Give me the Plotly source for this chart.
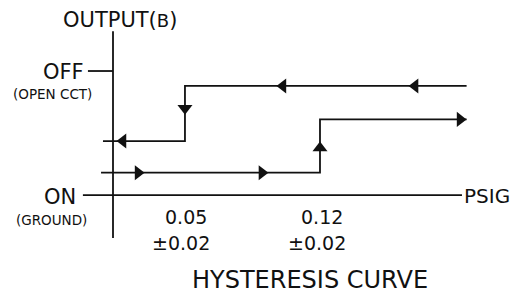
import plotly.graph_objects as go

# ---- data (schematic, x in PSIG, y in output level: ON=0, OFF=1) ----
thresholds = [0.05, 0.12]
threshold_labels = ["0.05", "0.12"]
tolerance_label = "±0.02"
level_names = ["ON", "OFF"]
level_values = [0, 1]
level_notes = ["(GROUND)", "(OPEN CCT)"]

# decreasing-pressure branch (upper path, moving left)
fall_x = [0.196, 0.05, 0.05, 0.0075]
fall_y = [0.88, 0.88, 0.435, 0.435]
# increasing-pressure branch (lower path, moving right)
rise_x = [0.0065, 0.12, 0.12, 0.196]
rise_y = [0.18, 0.18, 0.61, 0.61]

# arrow markers along the branches
arrows_left_x = [0.1693, 0.1008, 0.0179]
arrows_left_y = [0.88, 0.88, 0.435]
arrows_down_x = [0.05]
arrows_down_y = [0.70]
arrows_right_x = [0.0257, 0.0899, 0.1926]
arrows_right_y = [0.18, 0.18, 0.61]
arrows_up_x = [0.12]
arrows_up_y = [0.38]

# axes extents
yaxis_x = 0.0127
yaxis_span = [1.32, -0.347]
xaxis_span = [-0.0029, 0.1936]

FONT = "'DejaVu Sans', Verdana, sans-serif"
INK = "#111111"

fig = go.Figure()
line = dict(color=INK, width=1.8)

fig.add_trace(go.Scatter(x=[yaxis_x, yaxis_x], y=yaxis_span, mode="lines", line=line))
fig.add_trace(go.Scatter(x=xaxis_span, y=[level_values[0]] * 2, mode="lines", line=line))
fig.add_trace(go.Scatter(x=[-0.0003, yaxis_x], y=[level_values[1]] * 2, mode="lines", line=line))
fig.add_trace(go.Scatter(x=fall_x, y=fall_y, mode="lines", line=line))
fig.add_trace(go.Scatter(x=rise_x, y=rise_y, mode="lines", line=line))

for xs, ys, sym in [(arrows_left_x, arrows_left_y, "triangle-left"),
                    (arrows_right_x, arrows_right_y, "triangle-right"),
                    (arrows_down_x, arrows_down_y, "triangle-down"),
                    (arrows_up_x, arrows_up_y, "triangle-up")]:
    fig.add_trace(go.Scatter(x=xs, y=ys, mode="markers",
                             marker=dict(symbol=sym, size=13, color=INK, line=dict(width=0))))

ann = []
def text(x, y, t, size, xanchor="center"):
    ann.append(dict(x=x, y=y, xref="x", yref="y", text=t, showarrow=False,
                    xanchor=xanchor, yanchor="middle",
                    font=dict(family=FONT, size=size, color=INK)))

text(0.0163, 1.411, "OUTPUT(<span style='font-size:18px'>B</span>)", 21)
text(-0.0013, 0.992, level_names[1], 21, "right")
text(-0.0189, 0.815, level_notes[1], 13.5)
text(-0.0054, -0.016, level_names[0], 21, "right")
text(-0.0192, -0.202, level_notes[0], 13.5)
text(0.1936, -0.008, "PSIG", 20, "left")
for xv, lab, dx in zip(thresholds, threshold_labels, [0.0005, 0.001]):
    text(xv + dx, -0.177, lab, 19)
    text(xv + dx - 0.0025, -0.387, tolerance_label, 19)
text(0.1148, -0.685, "HYSTERESIS CURVE", 24)

fig.update_layout(
    width=510, height=293,
    margin=dict(l=0, r=0, t=0, b=0),
    paper_bgcolor="white", plot_bgcolor="white",
    showlegend=False,
    annotations=ann,
    xaxis=dict(range=[-0.04588, 0.2185], visible=False, fixedrange=True),
    yaxis=dict(range=[-0.790, 1.5726], visible=False, fixedrange=True),
)
fig.write_html("out.html", config={"displayModeBar": False})

# remove the browser's default page margin so the figure sits at (0, 0)
with open("out.html", encoding="utf-8") as f:
    html = f.read()
html = html.replace("<head>", "<head><style>html,body{margin:0;padding:0;overflow:hidden;}</style>", 1)
with open("out.html", "w", encoding="utf-8") as f:
    f.write(html)
